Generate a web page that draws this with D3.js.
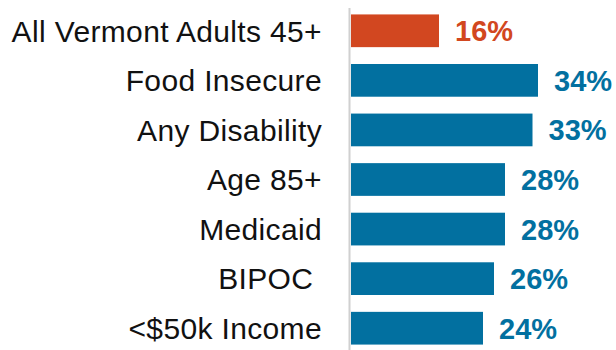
<!DOCTYPE html>
<html><head><meta charset="utf-8">
<script src="https://cdn.jsdelivr.net/npm/d3@7"></script>
<style>body{margin:0;background:#fff} text.cat{white-space:pre}</style>
</head><body>
<svg id="c" width="616" height="350"></svg>
<script>
const categories = ["All Vermont Adults 45+","Food Insecure","Any Disability","Age 85+","Medicaid","BIPOC ","<$50k Income"];
const values = [16,34,33,28,28,26,24];
const valueLabels = ["16%","34%","33%","28%","28%","26%","24%"];
const colors = ["#D24720","#0270A0","#0270A0","#0270A0","#0270A0","#0270A0","#0270A0"];

const svg = d3.select("#c");
const x0 = 351;
const x = d3.scaleLinear().domain([0,10]).range([x0, x0+55]);
const y = d3.scaleBand().domain(categories).range([6, 353]).paddingInner(0.34).paddingOuter(0.17);

svg.append("line").attr("x1",349.5).attr("x2",349.5).attr("y1",8).attr("y2",350)
  .attr("stroke","#d0d0d0").attr("stroke-width",2);

svg.selectAll("rect.bar").data(categories).enter().append("rect")
  .attr("x", x(0)).attr("y", d=>y(d))
  .attr("width", (d,i)=>x(values[i])-x(0)).attr("height", y.bandwidth())
  .attr("fill", (d,i)=>colors[i]);

svg.selectAll("text.cat").data(categories).enter().append("text")
  .attr("class","cat")
  .attr("x", 322).attr("y", d=>y(d)+y.bandwidth()/2)
  .attr("dy","0.36em").attr("text-anchor","end")
  .attr("font-family","Liberation Sans, Arial, sans-serif")
  .attr("font-size",30).attr("letter-spacing",0.35).attr("fill","#111")
  .text(d=>d);

svg.selectAll("text.val").data(categories).enter().append("text")
  .attr("class","val")
  .attr("x", (d,i)=>x(values[i])+16).attr("y", d=>y(d)+y.bandwidth()/2)
  .attr("dy","0.36em")
  .attr("font-family","Liberation Sans, Arial, sans-serif").attr("font-weight","bold")
  .attr("font-size",29).attr("fill",(d,i)=>colors[i])
  .text((d,i)=>valueLabels[i]);
</script>
</body></html>
